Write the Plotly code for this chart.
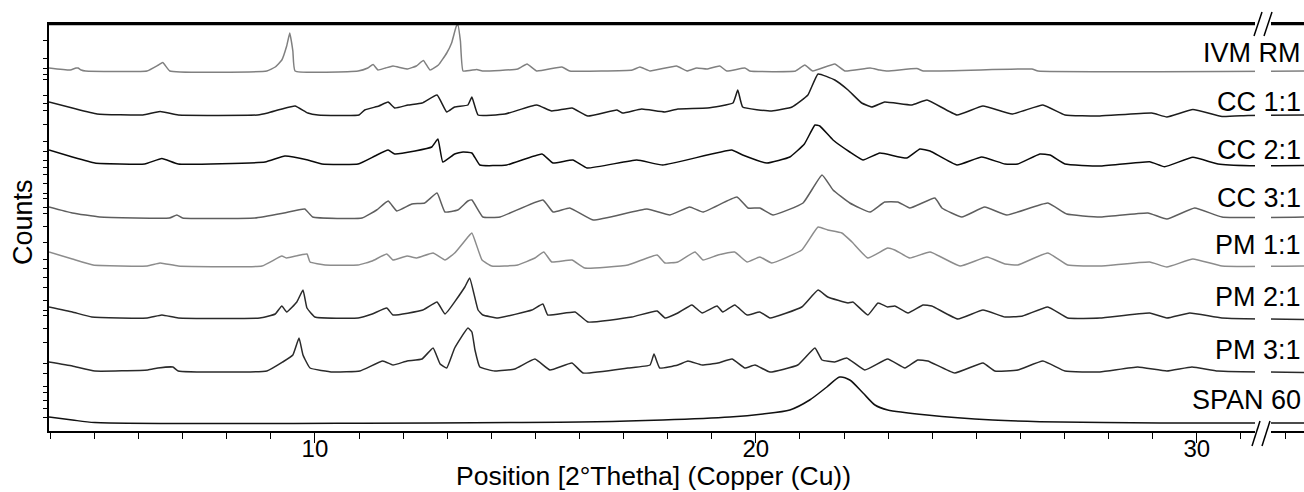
import plotly.graph_objects as go

# ---------------- data (2theta in degrees, counts in arbitrary units) ----------------
sample_names = ["IVM RM", "CC 1:1", "CC 2:1", "CC 3:1", "PM 1:1", "PM 2:1", "PM 3:1", "SPAN 60"]

ivm_x = [3.97, 4.45, 4.58, 4.63, 4.7, 4.8, 6.19, 6.45, 6.55, 6.71, 8.91, 9.1, 9.25, 9.36, 9.43, 9.5, 9.55,
         10.98, 11.2, 11.32, 11.43, 11.6, 11.77, 11.97, 12.1, 12.3, 12.46, 12.61, 12.8, 12.99, 13.1, 13.2,
         13.24, 13.3, 13.36, 13.67, 13.8, 14.6, 14.81, 15.03, 15.6, 15.78, 17.2, 17.37, 17.6, 18.2, 18.44,
         18.66, 18.89, 19.18, 19.34, 19.75, 19.86, 20.9, 21.11, 21.29, 21.79, 22.02, 22.59, 22.81, 22.99,
         23.65, 23.8, 26.26, 26.4, 32.43]
ivm_y = [3, 1, 3, 3, 1, 0, 0, 6, 8.5, 0, 0, 4, 11, 25, 38, 20, 0,
         0, 3, 6.5, 1, 3, 5, 3, 2, 5, 10.5, 1, 6, 18, 28, 44,
         47, 30, 0, 1.5, 0, 2, 7, 0, 4, 0, 1, 4, 0, 5, 0,
         3, 2, 5, 0, 3, 0, 0, 6, 0, 7, 0, 3, 1, 0,
         2.5, 0, 2, 0, 0]

cc11_x = [3.97, 4.5, 5.06, 6.1, 6.49, 6.9, 8.7, 8.93, 9.25, 9.55, 9.84, 10.07, 11.0, 11.13, 11.45, 11.66,
          11.81, 12.11, 12.43, 12.77, 12.99, 13.17, 13.47, 13.56, 13.7, 14.31, 15.03, 15.37, 15.83, 16.19,
          16.85, 16.98, 17.41, 17.94, 18.23, 18.9, 19.48, 19.59, 19.7, 20.36, 20.82, 21.18, 21.41, 21.79,
          22.09, 22.4, 22.63, 22.92, 23.54, 23.88, 24.56, 25.15, 25.81, 26.51, 27.01, 27.8, 28.98, 29.32,
          29.91, 30.57, 31.16, 32.43]
cc11_y = [13, 7, 1, 0, 3.5, 0, 0, 2, 6, 9, 2, 0, 0, 5, 9, 13,
          7, 10, 12, 20, 3, 8, 10, 18, 0, 1, 10, 4, 7, -1,
          5, 2, 6, 3, 6, 7, 12, 25, 8, 4, 8, 20, 41, 35,
          25, 12, 8, 13, 10, 15, 0, 9, 1, 10, 0, -1, 2, -2,
          5.5, -1.5, -0.5, 0]

cc21_x = [3.97, 4.5, 5.01, 6.14, 6.53, 6.9, 8.87, 9.32, 9.84, 10.16, 10.98, 11.36, 11.66, 11.81, 12.27,
          12.65, 12.79, 12.9, 13.17, 13.36, 13.56, 13.74, 14.35, 15.15, 15.4, 15.85, 16.17, 17.3, 17.89,
          19.45, 19.7, 20.25, 20.77, 21.1, 21.34, 21.45, 21.75, 22.13, 22.43, 22.81, 23.42, 23.72, 23.95,
          24.56, 25.12, 25.65, 25.94, 26.44, 26.67, 27.01, 27.8, 28.93, 29.27, 29.91, 30.48, 31.2, 32.43]
cc21_y = [14, 7, 1, 0, 5.5, 0, 2, 8, 4, 0, 0, 8, 14, 10, 13,
          17, 25, 2, 10, 12, 11, -1, -1, 10, 1, 4, -4, 4, -1,
          14, 9, 1, 7, 20, 39, 38, 24, 12, 4, 11, 6, 15, 13,
          -1, 7, 0, 0, 10, 9, 0, -2, 2.3, -2.7, 6.7, 0, -1.7, -1.5]

cc31_x = [3.97, 4.5, 5.12, 6.7, 6.87, 7.0, 8.64, 9.3, 9.77, 9.95, 11.07, 11.4, 11.66, 11.86, 12.2, 12.49,
          12.77, 12.95, 13.24, 13.47, 13.56, 13.81, 14.2, 15.17, 15.4, 15.78, 16.31, 17.53, 18.05, 18.5,
          18.8, 19.57, 19.82, 20.09, 20.39, 21.07, 21.5, 21.75, 22.13, 22.59, 22.92, 23.22, 23.49, 24.06,
          24.22, 24.67, 25.19, 25.69, 26.62, 27.05, 27.8, 28.89, 29.32, 29.95, 30.57, 32.43]
cc31_y = [11, 5, 1, 0, 3, 0, 0, 5, 9, 1, 0, 8, 17, 7, 14, 15,
          25, 6, 8, 17, 18, 1, 1, 18, 6, 10, -2, 9, 3, 11,
          6, 21, 10, 10, 3, 15, 43, 28, 15, 6, 16, 16, 10, 20,
          10, 1, 11, 3, 15, 4, 1, 5, -1, 10, 1, 1]

pm11_x = [3.97, 4.5, 4.97, 6.2, 6.49, 6.9, 8.8, 9.25, 9.36, 9.82, 9.89, 10.23, 10.98, 11.3, 11.63, 11.77,
          12.09, 12.31, 12.68, 12.95, 13.17, 13.47, 13.56, 13.79, 14.01, 14.6, 14.99, 15.19, 15.37, 15.83,
          16.12, 17.1, 17.76, 17.94, 18.23, 18.62, 18.8, 19.14, 19.52, 19.8, 20.09, 20.36, 21.04, 21.41,
          21.63, 21.95, 22.18, 22.54, 22.99, 23.15, 23.49, 23.95, 24.63, 25.24, 25.65, 25.94, 26.62, 27.07,
          27.8, 28.93, 29.32, 29.91, 30.57, 32.43]
pm11_y = [14, 7, 1, 0, 3, 0, 0, 10, 8, 12, 4, 1, 1, 5, 12, 6,
          10, 8, 13, 6, 13, 29, 33, 6, 0, 1, 8, 14, 4, 6,
          -2, 1, 11, 3, 4, 14, 6, 11, 14, 4, 9, 3, 16, 39,
          36, 33, 24, 8, 18, 16, 8, 14, 0, 9, 2, 1, 13, 1,
          0, 4, -1, 7, 0, 0]

pm21_x = [3.97, 4.5, 4.94, 6.2, 6.53, 6.9, 8.75, 9.1, 9.25, 9.36, 9.59, 9.73, 9.82, 10.0, 10.98, 11.3,
          11.63, 11.77, 12.45, 12.77, 12.95, 13.4, 13.51, 13.7, 13.81, 14.15, 14.92, 15.17, 15.28, 15.9,
          16.19, 17.19, 17.76, 17.94, 18.23, 18.55, 18.78, 19.12, 19.25, 19.52, 19.8, 20.09, 20.32, 21.04,
          21.41, 21.63, 22.09, 22.2, 22.54, 22.77, 22.99, 23.15, 23.45, 23.79, 23.99, 24.58, 25.15, 25.65,
          26.05, 26.62, 27.07, 27.8, 28.93, 29.32, 29.84, 30.57, 32.43]
pm21_y = [11, 6, 1, 0, 3, 0, 0, 4, 12, 6, 16, 28, 10, 1, 0, 4,
          10, 3, 8, 16, 4, 31, 40, 8, 3, 0, 8, 14, 3, 6,
          -4, 1, 7, 0, 5, 13, 5, 12, 6, 13, 3, 6, 0, 11,
          28, 21, 15, 16, 3, 15, 11, 12, 5, 13, 12, -1, 8, 1,
          2, 11, 0, 0, 5, 0, 5, 0, -1.5]

pm31_x = [3.97, 4.5, 5.01, 6.21, 6.44, 6.78, 6.9, 8.91, 9.27, 9.5, 9.64, 9.73, 9.89, 10.41, 11.02, 11.54,
          11.77, 12.09, 12.43, 12.68, 12.84, 12.99, 13.17, 13.47, 13.56, 13.63, 13.74, 14.08, 14.53, 14.99,
          15.33, 15.83, 16.08, 17.1, 17.6, 17.69, 17.82, 18.23, 18.46, 18.78, 19.14, 19.46, 19.75, 19.98,
          20.32, 20.95, 21.34, 21.5, 21.79, 22.06, 22.47, 22.99, 23.38, 23.67, 23.9, 24.51, 25.15, 25.42,
          25.94, 26.51, 27.01, 27.8, 28.66, 29.32, 29.89, 30.48, 32.43]
pm31_y = [9, 5, 0, 1, 3, 4, 0, 0, 9, 16, 33, 16, 3, -1, 0, 10,
          6, 10, 12, 23, 7, 3, 23, 43, 39, 21, 4, 0, 2, 12,
          1, 8, -2, 3, 6, 17, 3, 6, 10, 6, 8, 12, 3, 6,
          -1, 6, 23, 11, 9, 13, 1, 12, 3, 11, 10, -2, 8, 0,
          1, 10, 0, -1, 4, 0, 4, 0, -1.5]

span_x = [3.97, 4.5, 5.01, 16.39, 17.89, 19.41, 20.16, 20.77, 21.22, 21.61, 21.9, 22.13, 22.43, 22.7,
          22.99, 23.88, 25.37, 26.44, 29.16, 32.43]
span_y = [6, 3, 0.5, 1.3, 3, 6, 9, 13, 23, 36, 46, 43, 30, 18,
          13, 8, 3, 1.3, 0, 0]

# stacking offsets for each pattern (vertical display shift)
offsets = [360, 316, 267, 213, 165, 113, 60, 8]
label_y = [378, 329, 281, 233, 186, 134, 81, 31]
colors = ["#808080", "#1c1c1c", "#0a0a0a", "#5e5e5e", "#8c8c8c", "#2a2a2a", "#2a2a2a", "#111111"]
ytick_positions = [391, 373, 363, 357, 352, 336, 328, 321, 307, 290, 280, 271, 264, 257, 248, 238, 233,
                   224, 218, 205, 189, 172, 163, 154, 144, 131, 121, 116, 103, 89, 68, 58, 45, 39, 31, 23, 14]

xs = [ivm_x, cc11_x, cc21_x, cc31_x, pm11_x, pm21_x, pm31_x, span_x]
ys = [ivm_y, cc11_y, cc21_y, cc31_y, pm11_y, pm21_y, pm31_y, span_y]

# ---------------- figure ----------------
W, H = 1304, 492
L, R, T, B = 49, 0, 24, 61
X0, X1 = 3.97, 32.43
Y0, Y1 = 0, 407

fig = go.Figure()
for name, x, y, off, c in zip(sample_names, xs, ys, offsets, colors):
    fig.add_trace(go.Scatter(
        x=x, y=[v + off for v in y], mode="lines", name=name,
        line=dict(color=c, width=1.5, shape="spline", smoothing=0.7 if name == "SPAN 60" else 0.35),
        showlegend=False, cliponaxis=True))

def px_x(px):
    return (px - L) / (W - L - R)

def px_y(py):
    return (H - B - py) / (H - T - B)

FONT = "Arial, Liberation Sans, sans-serif"
annotations = []
for name, ly in zip(sample_names, label_y):
    annotations.append(dict(x=px_x(1303), xref="paper", y=ly, yref="y", text=name, showarrow=False,
                            xanchor="right", yanchor="middle", font=dict(family=FONT, size=27, color="black")))
annotations.append(dict(x=px_x(23), xref="paper", y=px_y(222), yref="paper", text="Counts", textangle=-90,
                        showarrow=False, xanchor="center", yanchor="middle",
                        font=dict(family=FONT, size=27, color="black")))
annotations.append(dict(x=px_x(653), xref="paper", y=px_y(476), yref="paper",
                        text="Position [2°Thetha] (Copper (Cu))", showarrow=False,
                        xanchor="center", yanchor="middle", font=dict(family=FONT, size=26.5, color="black")))

shapes = [
    # top frame line
    dict(type="line", xref="paper", yref="paper", x0=0, x1=1, y0=1, y1=1,
         line=dict(color="black", width=2.5), layer="above"),
    # axis-break gap
    dict(type="rect", xref="paper", yref="paper", x0=px_x(1255), x1=px_x(1271), y0=px_y(8), y1=px_y(449),
         fillcolor="white", line=dict(width=0), layer="above"),
]
for (xa, ya, xb, yb) in [(1254, 36, 1262, 12), (1264, 36, 1272, 12), (1252, 446, 1260, 421), (1262, 446, 1270, 421)]:
    shapes.append(dict(type="line", xref="paper", yref="paper", x0=px_x(xa), y0=px_y(ya), x1=px_x(xb), y1=px_y(yb),
                       line=dict(color="black", width=1.5), layer="above"))

fig.update_layout(
    width=W, height=H, margin=dict(l=L, r=R, t=T, b=B),
    paper_bgcolor="white", plot_bgcolor="white",
    font=dict(family=FONT, color="black"),
    xaxis=dict(range=[X0, X1], showgrid=False, zeroline=False, showline=True, linecolor="black", linewidth=2,
               mirror=True, ticks="outside", ticklen=10, tickwidth=1, tickcolor="black",
               tick0=0, dtick=10, tickfont=dict(size=24, family=FONT), ticklabelstandoff=-15,
               minor=dict(dtick=1, ticks="outside", ticklen=6, tickcolor="black", tickwidth=1, showgrid=False)),
    yaxis=dict(range=[Y0, Y1], showgrid=False, zeroline=False, showline=True, linecolor="black", linewidth=2,
               mirror=False, ticks="outside", ticklen=4, tickwidth=1, tickcolor="black",
               tickmode="array", tickvals=ytick_positions, showticklabels=False),
    annotations=annotations, shapes=shapes,
)

fig.write_html("out.html", config={"displayModeBar": False},
               post_script="document.body.style.margin='0px';document.body.style.overflow='hidden';")
